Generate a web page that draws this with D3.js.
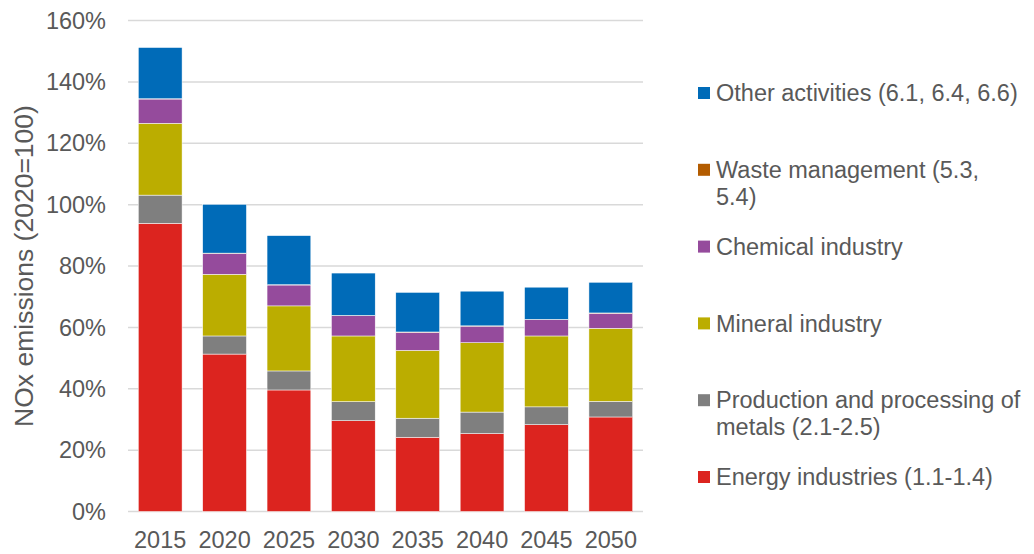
<!DOCTYPE html>
<html>
<head>
<meta charset="utf-8">
<script src="https://cdn.jsdelivr.net/npm/d3@7"></script>
<style>
    body { margin: 0; background: #fff; }
    text { font-family: "Liberation Sans", Arial, sans-serif; fill: #595959; }
</style>
</head>
<body>
<svg id="chart" width="1034" height="554"></svg>
<script>
"use strict";

// chart data, values in % of 2020 total
var years = ["2015", "2020", "2025", "2030", "2035", "2040", "2045", "2050"];
var energy = [93.9, 51.3, 39.6, 29.6, 24.2, 25.4, 28.3, 30.8];
var metals = [9.2, 5.9, 6.2, 6.2, 6.2, 7.0, 5.8, 5.1];
var mineral = [23.4, 20.1, 21.2, 21.4, 22.1, 22.6, 23.1, 23.8];
var chemical = [7.9, 6.8, 6.8, 6.6, 5.9, 5.4, 5.3, 4.9];
var waste = [0.1, 0.1, 0.1, 0.1, 0.1, 0.1, 0.1, 0.1];
var other = [16.7, 15.9, 16.0, 13.8, 12.9, 11.3, 10.5, 10.0];
var yTicks = [0, 20, 40, 60, 80, 100, 120, 140, 160];

// stacking order bottom -> top
var series = [
    {key: "energy", label: ["Energy industries (1.1-1.4)"], values: energy, color: "#dc241f"},
    {key: "metals", label: ["Production and processing of", "metals (2.1-2.5)"], values: metals, color: "#7f7f7f"},
    {key: "mineral", label: ["Mineral industry"], values: mineral, color: "#bbad00"},
    {key: "chemical", label: ["Chemical industry"], values: chemical, color: "#954b9c"},
    {key: "waste", label: ["Waste management (5.3,", "5.4)"], values: waste, color: "#b35c00"},
    {key: "other", label: ["Other activities (6.1, 6.4, 6.6)"], values: other, color: "#006bb8"}
];

var svg = d3.select("#chart"),
    plot = {left: 128, right: 643, top: 20.5, bottom: 511.5},
    fs = 23.5;   //font size used for ticks and legend

var x = d3.scaleBand()
    .domain(years)
    .range([plot.left, plot.right])
    .paddingInner(0.32)
    .paddingOuter(0.16);

var y = d3.scaleLinear()
    .domain([0, 160])
    .range([plot.bottom, plot.top]);

// gridlines
svg.append("g")
    .selectAll("line")
    .data(yTicks)
    .join("line")
    .attr("x1", plot.left)
    .attr("x2", plot.right)
    .attr("y1", function (d) { return y(d); })
    .attr("y2", function (d) { return y(d); })
    .attr("stroke", "#d9d9d9")
    .attr("stroke-width", 1.5);

// y tick labels
svg.append("g")
    .selectAll("text")
    .data(yTicks)
    .join("text")
    .attr("x", 106)
    .attr("y", function (d) { return y(d); })
    .attr("dy", "0.35em")
    .attr("text-anchor", "end")
    .attr("font-size", fs)
    .text(function (d) { return d + "%"; });

// y axis title
svg.append("text")
    .attr("transform", "translate(33,266) rotate(-90)")
    .attr("text-anchor", "middle")
    .attr("font-size", 26.5)
    .text("NOx emissions (2020=100)");

// stacked bars
var rows = years.map(function (yr, i) {
    var row = {year: yr};
    series.forEach(function (s) { row[s.key] = s.values[i]; });
    return row;
});
var stacked = d3.stack().keys(series.map(function (s) { return s.key; }))(rows);

svg.append("g")
    .selectAll("g")
    .data(stacked)
    .join("g")
    .attr("fill", function (d, i) { return series[i].color; })
    .selectAll("rect")
    .data(function (d) { return d; })
    .join("rect")
    .attr("x", function (d) { return x(d.data.year); })
    .attr("width", x.bandwidth())
    .attr("y", function (d) { return y(d[1]); })
    .attr("height", function (d) { return y(d[0]) - y(d[1]); })
    .attr("stroke", "#fff")
    .attr("stroke-width", 0.5);

// x labels
svg.append("g")
    .selectAll("text")
    .data(years)
    .join("text")
    .attr("x", function (d) { return x(d) + x.bandwidth() / 2; })
    .attr("y", 540)
    .attr("dy", "0.35em")
    .attr("text-anchor", "middle")
    .attr("font-size", fs)
    .text(function (d) { return d; });

// legend, top entry is last series
var legendY = d3.scalePoint()
    .domain(series.map(function (s) { return s.key; }).reverse())
    .range([93, 477]);

var lg = svg.append("g")
    .selectAll("g")
    .data(series)
    .join("g")
    .attr("transform", function (d) { return "translate(698," + legendY(d.key) + ")"; });

lg.append("rect")
    .attr("x", 0)
    .attr("y", -6)
    .attr("width", 12)
    .attr("height", 12)
    .attr("fill", function (d) { return d.color; });

lg.append("text")
    .attr("font-size", fs)
    .selectAll("tspan")
    .data(function (d) { return d.label; })
    .join("tspan")
    .attr("x", 18)
    .attr("y", function (d, i) { return i * 27; })
    .attr("dy", "0.35em")
    .text(function (d) { return d; });
</script>
</body>
</html>
